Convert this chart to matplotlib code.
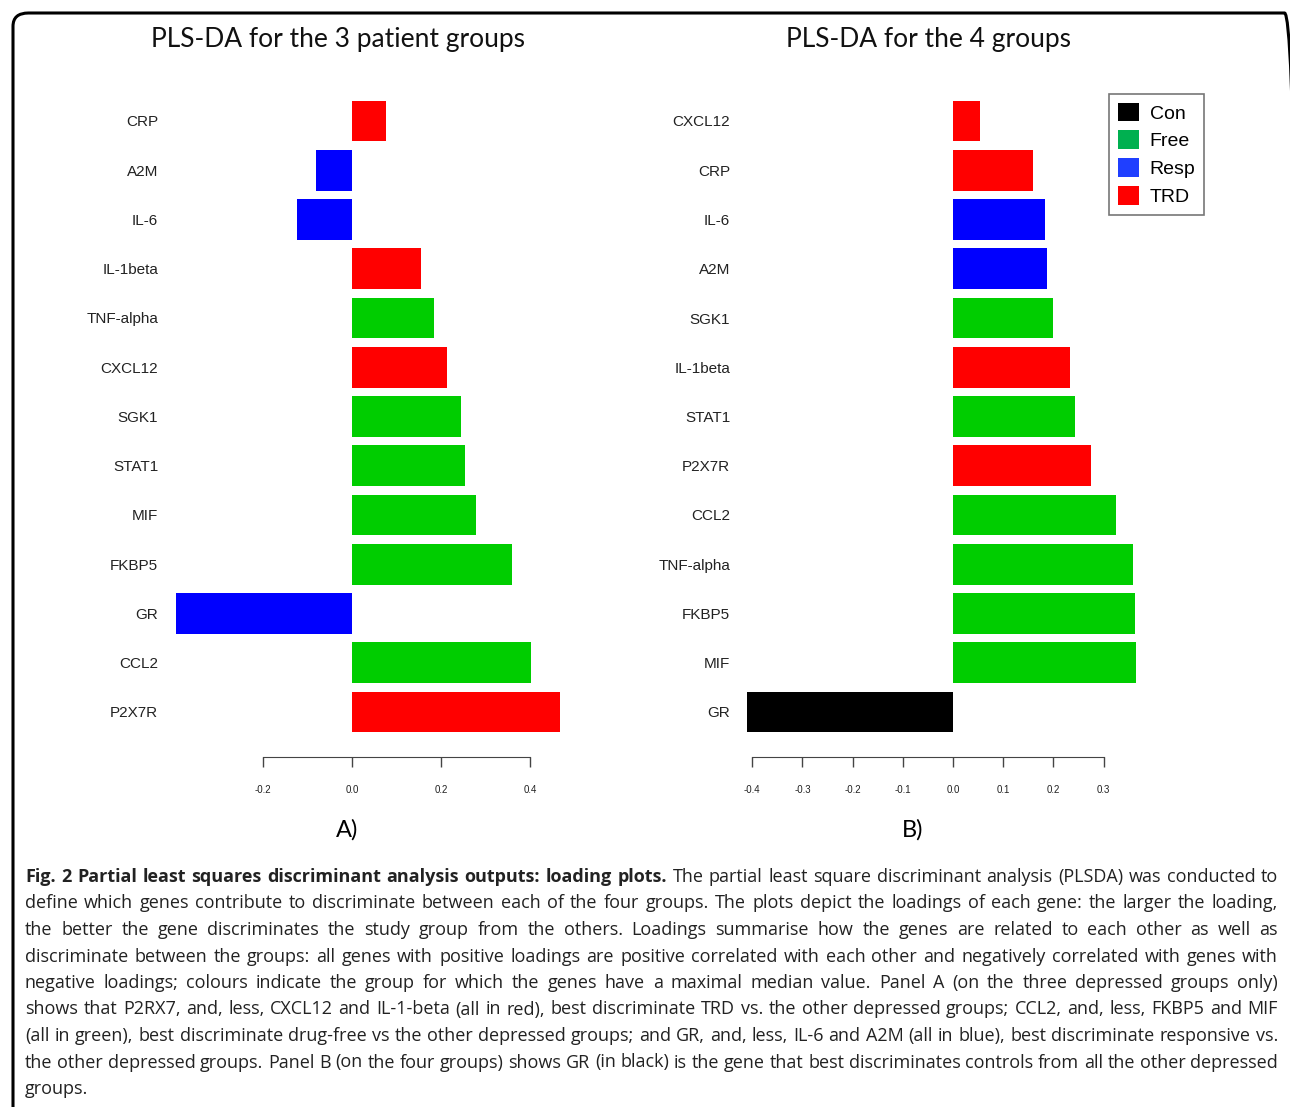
import matplotlib
matplotlib.use("Agg")
import matplotlib.pyplot as plt
from matplotlib.patches import Patch, FancyBboxPatch

# panel A : 3 patient groups (top to bottom)
genes_a = ["CRP", "A2M", "IL-6", "IL-1beta", "TNF-alpha", "CXCL12", "SGK1",
           "STAT1", "MIF", "FKBP5", "GR", "CCL2", "P2X7R"]
load_a = [0.076, -0.081, -0.124, 0.155, 0.184, 0.213, 0.245,
          0.254, 0.279, 0.360, -0.396, 0.402, 0.467]
grp_a = ["TRD", "Resp", "Resp", "TRD", "Free", "TRD", "Free",
         "Free", "Free", "Free", "Resp", "Free", "TRD"]

# panel B : 4 groups (top to bottom)
genes_b = ["CXCL12", "CRP", "IL-6", "A2M", "SGK1", "IL-1beta", "STAT1",
           "P2X7R", "CCL2", "TNF-alpha", "FKBP5", "MIF", "GR"]
load_b = [0.054, 0.159, 0.183, 0.187, 0.199, 0.233, 0.243,
          0.275, 0.325, 0.359, 0.363, 0.365, -0.410]
grp_b = ["TRD", "TRD", "Resp", "Resp", "Free", "TRD", "Free",
         "TRD", "Free", "Free", "Free", "Free", "Con"]

ticks_a = [-0.2, 0.0, 0.2, 0.4]
ticks_b = [-0.4, -0.3, -0.2, -0.1, 0.0, 0.1, 0.2, 0.3]

leg_groups = ["Con", "Free", "Resp", "TRD"]

bar_col = {"Con": "black", "Free": "#00CD00", "Resp": "#0000FF", "TRD": "#FF0000"}
leg_col = {"Con": "black", "Free": "#00B050", "Resp": "#1F3FFF", "TRD": "#FF0000"}

caption = [
    [("Fig. 2 Partial least squares discriminant analysis outputs: loading plots.", "bold"),
     ("The partial least square discriminant analysis (PLSDA) was conducted to", "normal")],
    [("define which genes contribute to discriminate between each of the four groups. The plots depict the loadings of each gene: the larger the loading,", "normal")],
    [("the better the gene discriminates the study group from the others. Loadings summarise how the genes are related to each other as well as", "normal")],
    [("discriminate between the groups: all genes with positive loadings are positive correlated with each other and negatively correlated with genes with", "normal")],
    [("negative loadings; colours indicate the group for which the genes have a maximal median value. Panel A (on the three depressed groups only)", "normal")],
    [("shows that P2RX7, and, less, CXCL12 and IL-1-beta (all in red), best discriminate TRD vs. the other depressed groups; CCL2, and, less, FKBP5 and MIF", "normal")],
    [("(all in green), best discriminate drug-free vs the other depressed groups; and GR, and, less, IL-6 and A2M (all in blue), best discriminate responsive vs.", "normal")],
    [("the other depressed groups. Panel B (on the four groups) shows GR (in black) is the gene that best discriminates controls from all the other depressed", "normal")],
    [("groups.", "normal")],
]

W, H = 1290, 1107
fig = plt.figure(figsize=(W / 100, H / 100), dpi=100)


def fx(px):
    return px / W


def fy(py):
    return 1 - py / H


# border with rounded corners
fig.patches.append(FancyBboxPatch((fx(13), fy(1130)), fx(1300 - 13), (1130 - 13) / H,
                                  boxstyle="round,pad=0,rounding_size=0.012",
                                  transform=fig.transFigure, fill=False,
                                  edgecolor="black", linewidth=2.2, clip_on=False))

row0, pitch = 121, 49.25
ylo, yhi = -0.6, 12.6
ax_top = row0 + ylo * pitch
ax_bot = row0 + yhi * pitch


def panel(xlim, zero_px, scale, genes, vals, grps, ticks):
    left = zero_px + scale * xlim[0]
    right = zero_px + scale * xlim[1]
    ax = fig.add_axes([fx(left), fy(ax_bot), (right - left) / W, (ax_bot - ax_top) / H])
    y = list(range(len(genes)))
    ax.barh(y, vals, height=0.83, color=[bar_col[g] for g in grps], linewidth=0)
    ax.set_xlim(xlim)
    ax.set_ylim(yhi, ylo)
    ax.set_yticks(y)
    ax.set_yticklabels(genes, fontsize=11, family="Liberation Sans", color="#222222")
    ax.tick_params(axis="y", length=0, pad=5)
    for s in ["left", "right", "top"]:
        ax.spines[s].set_visible(False)
    ax.spines["bottom"].set_bounds(ticks[0], ticks[-1])
    ax.spines["bottom"].set_position(("outward", 11))
    ax.spines["bottom"].set_color("#444444")
    ax.set_xticks(ticks)
    ax.set_xticklabels(["%.1f" % t for t in ticks], fontsize=7,
                       family="Liberation Sans", color="#222222")
    ax.tick_params(axis="x", length=7, width=1, color="#444444", pad=13)
    return ax


panel((-0.42, 0.5), 352, 445, genes_a, load_a, grp_a, ticks_a)
panel((-0.43, 0.52), 953, 502, genes_b, load_b, grp_b, ticks_b)

fig.text(fx(338), fy(40), "PLS-DA for the 3 patient groups", fontsize=19,
         family="Lato", ha="center", va="center", color="#111111")
fig.text(fx(928), fy(40), "PLS-DA for the 4 groups", fontsize=19,
         family="Lato", ha="center", va="center", color="#111111")
fig.text(fx(347), fy(830), "A)", fontsize=17, family="Lato", ha="center", va="center")
fig.text(fx(913), fy(830), "B)", fontsize=17, family="Lato", ha="center", va="center")

handles = [Patch(facecolor=leg_col[g], edgecolor="none", label=g) for g in leg_groups]
leg = fig.legend(handles=handles, loc="upper left", bbox_to_anchor=(fx(1109), fy(94)),
                 borderaxespad=0, fancybox=False, edgecolor="#777777", framealpha=1,
                 prop={"family": "Liberation Sans", "size": 14},
                 handlelength=1.1, handleheight=1.1, handletextpad=0.55,
                 labelspacing=0.4, borderpad=0.45)
leg.get_frame().set_linewidth(1.2)

# caption, justified lines
cap_left, cap_right = 25, 1278
cap_y0, cap_dy = 876, 26.5
cap_fs = 13
renderer = fig.canvas.get_renderer()


def wwidth(t):
    bb = t.get_window_extent(renderer=renderer)
    return bb.width


probe1 = fig.text(0, 0, "n n", fontsize=cap_fs, family="Open Sans")
probe2 = fig.text(0, 0, "nn", fontsize=cap_fs, family="Open Sans")
space_w = wwidth(probe1) - wwidth(probe2)
probe1.remove()
probe2.remove()

for i, parts in enumerate(caption):
    py = cap_y0 + i * cap_dy + 6
    words = []
    for txt, wt in parts:
        for w in txt.split(" "):
            words.append((w, wt))
    objs = []
    for w, wt in words:
        t = fig.text(0, fy(py), w, fontsize=cap_fs, family="Open Sans", fontweight=wt,
                     color="#222222", ha="left", va="baseline")
        objs.append(t)
    widths = [wwidth(t) for t in objs]
    last = i == len(caption) - 1
    if last or len(objs) < 2:
        gap = space_w
    else:
        gap = (cap_right - cap_left - sum(widths)) / (len(objs) - 1)
    x = cap_left
    for t, w in zip(objs, widths):
        t.set_x(fx(x))
        x += w + gap

fig.savefig("out.png", dpi=100)
